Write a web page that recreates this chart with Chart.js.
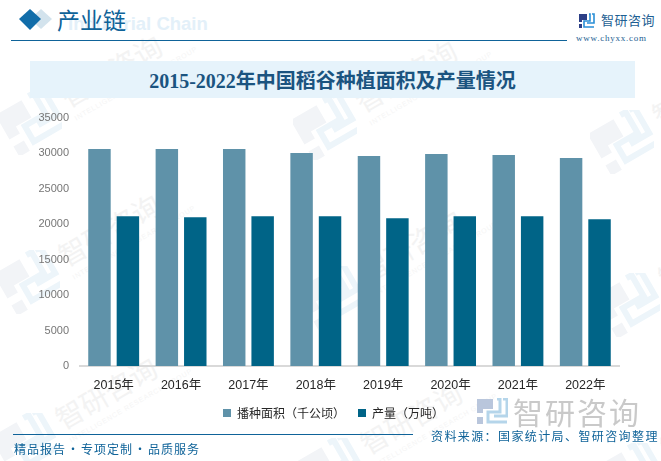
<!DOCTYPE html>
<html>
<head>
<meta charset="utf-8">
<script src="https://cdn.jsdelivr.net/npm/chart.js@4/dist/chart.umd.min.js"></script>
<style>
html, body { margin: 0; padding: 0; background: #fff; }
#page { position: relative; width: 661px; height: 461px; overflow: hidden; font-family: "Noto Sans CJK SC", sans-serif; }
#page div, #page svg { position: absolute; white-space: nowrap; }
canvas { position: absolute; left: 0; top: 0; }
.wm { color: #f3f3f3; font-size: 28px; line-height: 30px; letter-spacing: 0; transform-origin: 0 50%; transform: rotate(-30deg); }
.wmen { color: #f5f5f5; font: 7px 'Liberation Sans', sans-serif; letter-spacing: 0.8px; transform-origin: 0 50%; transform: rotate(-30deg); }
</style>
</head>
<body>
<div id="page">
  <div id="marks"></div>

  <div style="left:68px;top:13px;font:700 18.5px 'Liberation Sans',sans-serif;color:#e3f0f9">Industrial Chain</div>
  <svg style="left:18px;top:8px" width="34" height="24">
    <path d="M23 1 L34 11 L23 21 L12 11 Z" fill="#d3e3ed"/>
    <path d="M12 1 L23 11 L12 22 L1 11 Z" fill="#116da9"/>
  </svg>
  <div style="left:57px;top:4px;font-size:23px;line-height:30px;color:#0f6399">产业链</div>
  <div style="left:11px;top:40px;width:556px;height:1px;background:#0f6399"></div>

  <svg style="left:578px;top:13px" width="17" height="16">
    <path d="M1 1 H9 V7 H4 V9 H1 Z M1 11 H4 V15 H1 Z" fill="#2c3f86"/>
    <path d="M11 1 H12 V8 H6 V14 H16 M14 1 H16 V10 H9" fill="none" stroke="#2a8fd6" stroke-width="1.6"/>
  </svg>
  <div style="left:601px;top:11px;font-size:13px;line-height:18px;letter-spacing:0.5px;color:#1e5f93">智研咨询</div>
  <div style="left:576px;top:33px;font:9px 'Liberation Serif',serif;line-height:11px;letter-spacing:0.75px;color:#1e5f93">www.chyxx.com</div>

  <div style="left:30px;top:61px;width:605px;height:37px;background:#e6f3fb"></div>
  <div style="left:30px;top:61px;width:605px;text-align:center;font:700 20px/40px 'Liberation Serif','Noto Sans CJK SC',serif;color:#1b5480">2015-2022年中国稻谷种植面积及产量情况</div>

  <canvas id="myChart" width="661" height="461"></canvas>

  <svg style="left:476px;top:398px" width="32" height="27">
    <path d="M1 1 H17 V11 H7 V15 H1 Z M1 19 H7 V26 H1 Z" fill="#b9c6dc"/>
    <path d="M21 1 H24 V14 H12 V24 H31 M27 1 H31 V18 H18" fill="none" stroke="#b5d5ea" stroke-width="3"/>
  </svg>
  <div style="left:513px;top:392px;font-size:30px;line-height:38px;letter-spacing:2px;color:#c9c9c9">智研咨询</div>

  <div style="left:13px;top:434px;width:400px;height:1px;background:#0f6399"></div>
  <div style="left:14px;top:441px;font-size:12px;line-height:16px;letter-spacing:1px;color:#0f6399">精品报告<span style="margin:0 1px">·</span>专项定制<span style="margin:0 1px">·</span>品质服务</div>
  <div style="left:431px;top:428px;font-size:12px;line-height:16px;letter-spacing:1.4px;color:#0f6399">资料来源：国家统计局、智研咨询整理</div>
</div>
<script>
const years = ['2015年', '2016年', '2017年', '2018年', '2019年', '2020年', '2021年', '2022年'];
const sownArea = [30620, 30620, 30620, 30050, 29640, 29920, 29780, 29360];
const output = [21150, 21000, 21150, 21150, 20860, 21150, 21150, 20720];

// faint background logo + name, repeated
const markSpots = [[30, 123], [325, 128], [622, 142], [28, 282], [330, 298], [628, 305], [25, 445], [330, 470], [630, 475]];
let markHtml = '';
markSpots.forEach(function (p) {
    markHtml += '<svg style="left:' + (p[0] - 32) + 'px;top:' + (p[1] - 32) + 'px" width="64" height="64" viewBox="0 0 32 32">' +
        '<g transform="rotate(-30 16 16)">' +
        '<path d="M3 4 H18 V14 H9 V18 H3 Z M3 22 H9 V28 H3 Z" fill="#f2f4f7"/>' +
        '<path d="M22 4 H25 V16 H13 V25 H30 M27 4 H30 V19 H19" fill="none" stroke="#edf5fa" stroke-width="3"/>' +
        '</g></svg>';
    markHtml += '<div class="wm" style="left:' + (p[0] + 32) + 'px;top:' + (p[1] - 40) + 'px">智研咨询</div>';
    markHtml += '<div class="wmen" style="left:' + (p[0] + 45) + 'px;top:' + (p[1] - 8) + 'px">INTELLIGENCE RESEARCH GROUP</div>';
});
document.getElementById('marks').innerHTML = markHtml;

// legend sits a little right of the centre of the page
const shiftLegend = {
    id: 'shiftLegend',
    afterLayout: function (chart) {
        chart.legend.left += 5;
        chart.legend.right += 5;
    }
};

const ctx = document.getElementById('myChart').getContext('2d');
const myChart = new Chart(ctx, {
    type: 'bar',
    data: {
        labels: years,
        datasets: [
            { label: '播种面积（千公顷）', data: sownArea, backgroundColor: '#5f92a9' },
            { label: '产量（万吨）', data: output, backgroundColor: '#006487' }
        ]
    },
    plugins: [shiftLegend],
    options: {
        responsive: false,
        animation: false,
        layout: { padding: { left: 38, right: 42, top: 118, bottom: 32 } },
        datasets: { bar: { categoryPercentage: 0.844, barPercentage: 0.79 } },
        plugins: {
            legend: {
                position: 'bottom',
                labels: {
                    boxWidth: 8, boxHeight: 8, padding: 13,
                    color: '#262626',
                    font: { size: 12, family: '"Noto Sans CJK SC"' }
                }
            },
            tooltip: { enabled: false }
        },
        scales: {
            x: {
                afterFit: function (scale) { scale.height = 28; },
                grid: { drawOnChartArea: false, drawTicks: false, color: '#d9d9d9' },
                border: { color: '#d9d9d9', width: 2 },
                ticks: { color: '#262626', padding: 12, maxRotation: 0, font: { size: 12.5, family: '"Liberation Sans","Noto Sans CJK SC"' } }
            },
            y: {
                min: 0, max: 35000,
                afterFit: function (scale) { scale.width = 42; },
                grid: { display: false, drawTicks: false },
                border: { display: false },
                ticks: {
                    stepSize: 5000, color: '#767676', padding: 11,
                    font: { size: 11, family: '"Liberation Sans"' },
                    callback: function (value) { return String(value); }
                }
            }
        }
    }
});
</script>
</body>
</html>
